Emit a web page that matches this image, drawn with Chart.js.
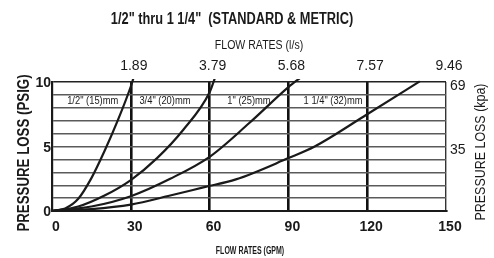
<!DOCTYPE html>
<html>
<head>
<meta charset="utf-8">
<script src="https://cdn.jsdelivr.net/npm/chart.js@4.4.1/dist/chart.umd.min.js"></script>
<style>
html, body { margin:0; padding:0; background:#fff; }
</style>
</head>
<body>
<canvas id="lossChart" width="494" height="258"></canvas>
<script>
// flow (GPM) and pressure loss (PSI)
var halfGpm    = [0, 5, 10, 15, 20, 25, 30, 31];
var halfPsi    = [0, 0.2, 0.95, 2.55, 4.65, 7.0, 9.65, 10.3];
var threeQGpm  = [0, 10, 20, 30, 40, 50, 60, 62];
var threeQPsi  = [0, 0.35, 1.2, 2.4, 4.1, 6.3, 9.2, 10.3];
var oneGpm     = [0, 15, 30, 45, 60, 75, 90, 95];
var onePsi     = [0, 0.35, 1.15, 2.5, 4.2, 6.8, 9.6, 10.4];
var oneQGpm    = [0, 15, 30, 45, 58, 70, 90, 100, 120, 140];
var oneQPsi    = [0, 0.15, 0.5, 1.2, 1.85, 2.45, 4.1, 5.0, 7.5, 10.05];

var pipeLabels = ['1/2" (15)mm', '3/4" (20)mm', '1" (25)mm', '1 1/4" (32)mm'];

// tick labels
var gpmTicks   = [0, 30, 60, 90, 120, 150];
var lsTicks    = ['', '1.89', '3.79', '5.68', '7.57', '9.46'];
var psiTicks   = [0, 5, 10];
var kpaAtPsi   = [5, 10];
var kpaTicks   = ['35', '69'];

var chartTitle  = '1/2" thru 1 1/4"  (STANDARD & METRIC)';
var topTitle    = 'FLOW RATES (l/s)';
var bottomTitle = 'FLOW RATES (GPM)';
var leftTitle   = 'PRESSURE LOSS (PSIG)';
var rightTitle  = 'PRESSURE LOSS (kpa)';

var FONT = "'Liberation Sans', Arial, sans-serif";
var INK = '#1a1a1a';

function pts(xs, ys){
    return xs.map(function(x, i){ return {x: x, y: ys[i]}; });
}

function curve(xs, ys){
    return {
        data: pts(xs, ys),
        borderColor: INK,
        borderWidth: 2.2,
        pointRadius: 0,
        cubicInterpolationMode: 'monotone',
        clip: {left: 0, top: 3, right: 0, bottom: 0}
    };
}

// condensed look: squeeze a normal sans horizontally
function narrowText(ctx, text, x, y, font, sx, rot){
    ctx.save();
    ctx.translate(x, y);
    if (rot) ctx.rotate(rot);
    ctx.scale(sx, 1);
    ctx.font = font;
    ctx.fillText(text, 0, 0);
    ctx.restore();
}

/* --------------------------
   TEXT OVERLAY
--------------------------- */
var textPlugin = {
    id: 'chartTexts',
    afterDraw: function(chart){
        var ctx = chart.ctx;
        var xs = chart.scales.x, ys = chart.scales.y;
        var o = chart.options.plugins.chartTexts;
        ctx.save();
        ctx.fillStyle = INK;
        ctx.textAlign = 'center';
        ctx.textBaseline = 'middle';

        narrowText(ctx, chartTitle, 232, 20, 'bold 16px ' + FONT, 0.8);
        narrowText(ctx, topTitle, 259, 46, '12px ' + FONT, 0.88);
        narrowText(ctx, bottomTitle, 250, 251, 'bold 10px ' + FONT, 0.7);
        narrowText(ctx, leftTitle, 25, 153, 'bold 16px ' + FONT, 0.83, -Math.PI / 2);
        narrowText(ctx, rightTitle, 481, 152, '15px ' + FONT, 0.83, -Math.PI / 2);

        // pipe size labels inside the plot
        pipeLabels.forEach(function(t, i){
            narrowText(ctx, t, xs.getPixelForValue(o.labelGpm[i]), ys.getPixelForValue(o.labelPsi),
                '11px ' + FONT, 0.85);
        });
        ctx.restore();
    }
};

new Chart(document.getElementById('lossChart'), {
    type: 'line',
    data: {
        datasets: [
            curve(halfGpm, halfPsi),
            curve(threeQGpm, threeQPsi),
            curve(oneGpm, onePsi),
            curve(oneQGpm, oneQPsi)
        ]
    },
    plugins: [textPlugin],
    options: {
        responsive: false,
        animation: false,
        events: [],
        layout: { padding: 0 },
        plugins: {
            legend: { display: false },
            tooltip: { enabled: false },
            chartTexts: { labelGpm: [15.5, 43, 75, 107], labelPsi: 8.5 }
        },
        scales: {
            x: {
                type: 'linear',
                position: 'bottom',
                min: 0, max: 150,
                afterBuildTicks: function(s){ s.ticks = gpmTicks.map(function(v){ return {value: v}; }); },
                afterFit: function(s){ s.height = 47; },
                ticks: {
                    autoSkip: false,
                    padding: 8,
                    labelOffset: 4,
                    maxRotation: 0,
                    color: INK,
                    font: { family: FONT, size: 14, weight: 'bold' }
                },
                grid: {
                    drawTicks: false,
                    color: function(c){
                        var v = c.tick.value;
                        if (v === 0) return 'rgba(0,0,0,0)';
                        return v === 150 ? '#333' : '#111';
                    },
                    lineWidth: function(c){ return c.tick.value === 150 ? 1.4 : 2.6; }
                },
                border: { color: INK, width: 2 }
            },
            x2: {
                type: 'linear',
                position: 'top',
                min: 0, max: 150,
                afterBuildTicks: function(s){ s.ticks = gpmTicks.map(function(v){ return {value: v}; }); },
                afterFit: function(s){ s.height = 82; },
                ticks: {
                    autoSkip: false,
                    padding: 7,
                    labelOffset: 3,
                    maxRotation: 0,
                    color: INK,
                    font: { family: FONT, size: 14 },
                    callback: function(v){ return lsTicks[gpmTicks.indexOf(v)]; }
                },
                grid: { display: false, drawTicks: false },
                border: { display: false }
            },
            y: {
                position: 'left',
                min: 0, max: 10,
                afterBuildTicks: function(s){
                    var t = [];
                    for (var v = 0; v <= 10; v++) t.push({value: v});
                    s.ticks = t;
                },
                afterFit: function(s){ s.width = 52; },
                ticks: {
                    autoSkip: false,
                    padding: 1,
                    labelOffset: 1.5,
                    color: INK,
                    font: { family: FONT, size: 14, weight: 'bold' },
                    callback: function(v){ return psiTicks.indexOf(v) >= 0 ? String(v) : ''; }
                },
                grid: {
                    drawTicks: false,
                    color: function(c){
                        var v = c.tick.value;
                        if (v === 0) return 'rgba(0,0,0,0)';
                        return v === 10 ? '#222' : '#5a5a5a';
                    },
                    lineWidth: 1.4
                },
                border: { color: INK, width: 2.2 }
            },
            y2: {
                position: 'right',
                min: 0, max: 10,
                afterBuildTicks: function(s){ s.ticks = kpaAtPsi.map(function(v){ return {value: v}; }); },
                afterFit: function(s){ s.width = 48; },
                ticks: {
                    autoSkip: false,
                    padding: 4,
                    labelOffset: 4,
                    color: INK,
                    font: { family: FONT, size: 14 },
                    callback: function(v){ return kpaTicks[kpaAtPsi.indexOf(v)]; }
                },
                grid: { display: false, drawTicks: false },
                border: { display: false }
            }
        }
    }
});
</script>
</body>
</html>
